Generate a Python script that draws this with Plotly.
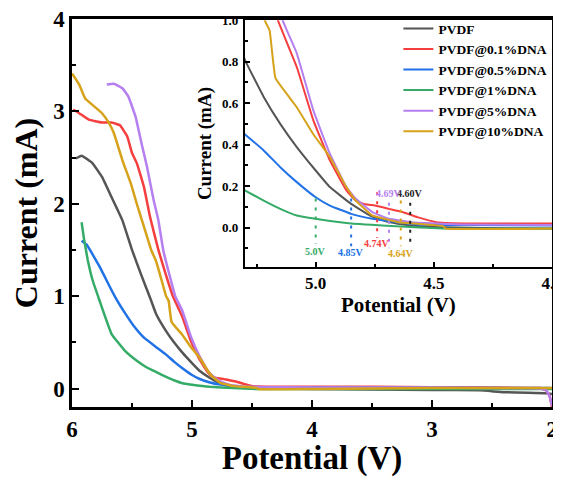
import plotly.graph_objects as go

# ---------------- data ----------------
names = ["PVDF", "PVDF@0.1%DNA", "PVDF@0.5%DNA", "PVDF@1%DNA", "PVDF@5%DNA", "PVDF@10%DNA"]
colors = ["#555555", "#f53f3f", "#2172e6", "#35ab68", "#b67ff0", "#d6a21a"]

v_pvdf = [5.97, 5.92, 5.83, 5.75, 5.67, 5.58, 5.50, 5.42, 5.34, 5.30, 5.22, 5.15, 5.08, 5.00, 4.94,
          4.85, 4.77, 4.69, 4.60, 4.50, 4.30, 4.00, 3.50, 3.00, 2.60, 2.40, 2.20, 2.05, 2.00]
i_pvdf = [2.49, 2.52, 2.44, 2.29, 2.07, 1.82, 1.50, 1.22, 0.95, 0.81, 0.63, 0.50, 0.388, 0.275, 0.195,
          0.114, 0.058, 0.026, 0.010, 0.003, -0.002, -0.005, -0.010, -0.015, -0.020, -0.040, -0.045, -0.050, -0.060]

v_01 = [5.99, 5.94, 5.86, 5.75, 5.67, 5.60, 5.54, 5.50, 5.46, 5.40, 5.35, 5.28, 5.22, 5.16, 5.08, 5.01,
        4.94, 4.87, 4.83, 4.79, 4.75, 4.69, 4.63, 4.57, 4.49, 4.38, 4.00, 3.50, 3.00, 2.50, 2.10, 2.05, 2.02, 2.00]
i_01 = [3.02, 2.98, 2.91, 2.88, 2.88, 2.85, 2.73, 2.55, 2.44, 2.18, 1.86, 1.50, 1.24, 1.00, 0.774, 0.517,
        0.324, 0.179, 0.130, 0.112, 0.106, 0.090, 0.074, 0.050, 0.026, 0.020, 0.020, 0.018, 0.015, 0.010, 0.005, -0.02, -0.08, -0.20]

v_05 = [5.92, 5.88, 5.85, 5.77, 5.70, 5.64, 5.55, 5.475, 5.40, 5.30, 5.22, 5.15, 5.08, 5.00, 4.94, 4.85,
        4.76, 4.66, 4.57, 4.40, 4.00, 3.00, 2.00]
i_05 = [1.60, 1.56, 1.50, 1.32, 1.14, 0.99, 0.80, 0.66, 0.55, 0.45, 0.372, 0.291, 0.219, 0.146, 0.106, 0.066,
        0.042, 0.026, 0.015, 0.012, 0.010, 0.008, 0.005]

v_1 = [5.92, 5.90, 5.87, 5.83, 5.77, 5.67, 5.56, 5.46, 5.38, 5.30, 5.22, 5.15, 5.08, 5.00, 4.85, 4.66,
       4.46, 4.00, 3.00, 2.00]
i_1 = [1.80, 1.62, 1.40, 1.18, 0.95, 0.59, 0.41, 0.30, 0.23, 0.179, 0.130, 0.090, 0.058, 0.042, 0.019, 0.006,
       -0.005, -0.005, -0.005, -0.005]

v_5 = [5.71, 5.65, 5.58, 5.53, 5.47, 5.42, 5.375, 5.32, 5.28, 5.24, 5.19, 5.14, 5.08, 5.01, 4.94, 4.87,
       4.83, 4.76, 4.69, 4.60, 4.37, 4.00, 3.00, 2.50, 2.10, 2.05, 2.02, 2.00]
i_5 = [3.29, 3.30, 3.25, 3.16, 2.94, 2.65, 2.40, 2.04, 1.82, 1.50, 1.24, 1.00, 0.84, 0.565, 0.356, 0.195,
       0.139, 0.074, 0.042, 0.026, 0.015, 0.012, 0.010, 0.005, 0.0, -0.02, -0.08, -0.19]

v_10 = [6.00, 5.94, 5.89, 5.83, 5.75, 5.69, 5.65, 5.58, 5.51, 5.46, 5.40, 5.34, 5.30, 5.27, 5.216, 5.195,
        5.17, 5.08, 5.01, 4.94, 4.87, 4.83, 4.76, 4.65, 4.46, 4.45, 4.00, 3.00, 2.00]
i_10 = [3.41, 3.29, 3.14, 3.07, 2.98, 2.87, 2.76, 2.47, 2.22, 2.00, 1.75, 1.50, 1.38, 1.25, 1.00, 0.95,
        0.72, 0.58, 0.45, 0.34, 0.195, 0.130, 0.058, 0.026, 0.006, -0.005, -0.005, 0.005, 0.005]

series_v = [v_pvdf, v_01, v_05, v_1, v_5, v_10]
series_i = [i_pvdf, i_01, i_05, i_1, i_5, i_10]

# onset potentials marked in the inset
onset_v = [4.60, 4.74, 4.85, 5.0, 4.69, 4.64]
onset_labels = ["4.60V", "4.74V", "4.85V", "5.0V", "4.69V", "4.64V"]
onset_colors = ["#222222", "#f53f3f", "#2172e6", "#35ab68", "#b67ff0", "#d6a21a"]
# layout of the marker lines / labels (inset data units)
onset_line_top = [0.12, 0.17, 0.14, 0.14, 0.12, 0.13]
onset_line_bot = [-0.09, -0.05, -0.09, -0.08, -0.10, -0.09]
onset_label_y = [0.163, -0.077, -0.12, -0.115, 0.165, -0.127]

SERIF = "Liberation Serif, Times New Roman, Times, serif"

fig = go.Figure()

# main traces
for v, i, c, n in zip(series_v, series_i, colors, names):
    fig.add_trace(go.Scatter(x=v, y=i, mode="lines", name=n, showlegend=False,
                             line=dict(color=c, width=2.5, shape="spline", smoothing=0.3),
                             xaxis="x", yaxis="y"))

# inset traces
for v, i, c, n in zip(series_v, series_i, colors, names):
    fig.add_trace(go.Scatter(x=v, y=i, mode="lines", name=n, showlegend=True,
                             line=dict(color=c, width=2, shape="spline", smoothing=0.3),
                             xaxis="x2", yaxis="y2"))

# onset dotted lines
for xv, t, b, c in zip(onset_v, onset_line_top, onset_line_bot, onset_colors):
    fig.add_trace(go.Scatter(x=[xv, xv], y=[t, b], mode="lines", showlegend=False,
                             line=dict(color=c, width=2, dash="3px,6px"),
                             xaxis="x2", yaxis="y2", hoverinfo="skip"))

for xv, lab, ly, c in zip(onset_v, onset_labels, onset_label_y, onset_colors):
    fig.add_annotation(x=xv, y=ly, xref="x2", yref="y2", text=lab, showarrow=False,
                       font=dict(family=SERIF, size=10, color=c, weight="bold"))

axis_common = dict(showline=True, linecolor="black", mirror=True, showgrid=False, automargin=False,
                   zeroline=False, ticks="inside", tickcolor="black", ticklabeloverflow="allow")

# the page body adds an 8 px margin, so the figure starts 8 px in from the window corner
fig.update_layout(
    width=561, height=469,
    margin=dict(l=64, r=17, t=11, b=70, autoexpand=False),
    paper_bgcolor="white", plot_bgcolor="white",
    font=dict(family=SERIF, color="black"),
    xaxis=dict(axis_common, domain=[0, 1], range=[6, 2], dtick=1, tick0=2,
               linewidth=2.5, ticklen=7, tickwidth=2,
               minor=dict(ticks="inside", dtick=0.5, ticklen=4, tickwidth=2, tickcolor="black"),
               tickfont=dict(family=SERIF, size=23, weight="bold"), ticklabelstandoff=0,
               title=dict(text="Potential (V)", font=dict(family=SERIF, size=33, weight="bold"),
                          standoff=11)),
    yaxis=dict(axis_common, domain=[0, 1], range=[-0.2, 4], dtick=1, tick0=0,
               linewidth=2.5, ticklen=7, tickwidth=2,
               minor=dict(ticks="inside", dtick=0.5, ticklen=4, tickwidth=2, tickcolor="black"),
               tickfont=dict(family=SERIF, size=23, weight="bold"), ticklabelstandoff=0,
               title=dict(text="Current (mA)", font=dict(family=SERIF, size=32, weight="bold"),
                          standoff=6)),
    xaxis2=dict(axis_common, domain=[0.36, 1.0], anchor="y2", range=[5.3, 4.0], dtick=0.5, tick0=4,
                linewidth=2, ticklen=5, tickwidth=1.5, tickformat=".1f",
                minor=dict(ticks="inside", dtick=0.25, ticklen=3, tickwidth=1.5, tickcolor="black"),
                tickfont=dict(family=SERIF, size=17, weight="bold"), ticklabelstandoff=0,
                title=dict(text="Potential (V)", font=dict(family=SERIF, size=21, weight="bold"),
                           standoff=0)),
    yaxis2=dict(axis_common, domain=[0.361, 0.997], anchor="x2", range=[-0.19, 1.0], dtick=0.2, tick0=0,
                linewidth=2, ticklen=5, tickwidth=1.5, tickformat=".1f",
                minor=dict(ticks="inside", dtick=0.1, ticklen=3, tickwidth=1.5, tickcolor="black"),
                tickfont=dict(family=SERIF, size=13, weight="bold"), ticklabelstandoff=2,
                title=dict(text="Current (mA)", font=dict(family=SERIF, size=19, weight="bold"),
                           standoff=5)),
    legend=dict(x=0.68, y=1.015, xanchor="left", yanchor="top", bgcolor="rgba(0,0,0,0)",
                font=dict(family=SERIF, size=13.5, weight="bold"), tracegroupgap=0),
)

fig.write_html("out.html")
